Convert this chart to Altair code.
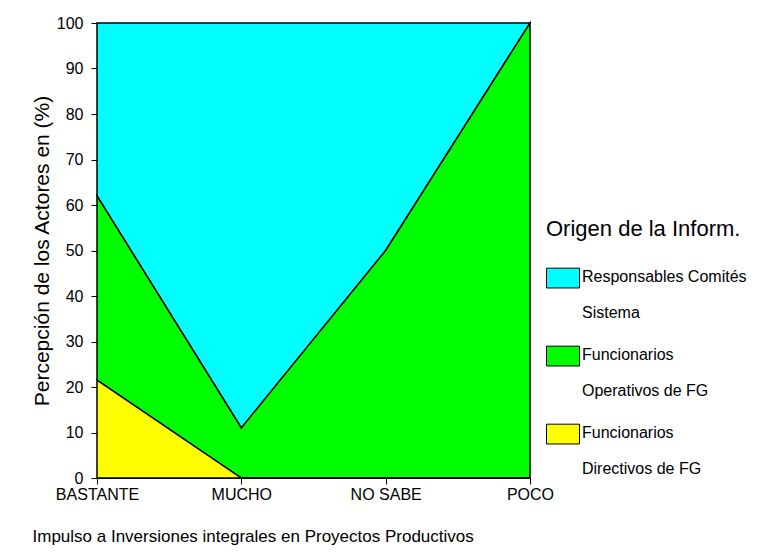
import altair as alt
import pandas as pd

categories = ["BASTANTE", "MUCHO", "NO SABE", "POCO"]
series = ["Responsables Comités Sistema", "Funcionarios Operativos de FG", "Funcionarios Directivos de FG"]
responsables = [38, 89, 50, 0]
operativos = [40.5, 11, 50, 100]
directivos = [21.5, 0, 0, 0]
colors = ["#00FFFF", "#00FF00", "#FFFF00"]
stack_order = [2, 1, 0]

rows = []
for s, vals, o in zip(series, [responsables, operativos, directivos], stack_order):
    for c, v in zip(categories, vals):
        rows.append({"cat": c, "serie": s, "val": v, "ord": o})
df = pd.DataFrame(rows)

font = "Liberation Sans"
label_expr = (
    "datum.label == 'Responsables Comités Sistema' ? ['Responsables Comités', ' Sistema'] : "
    "datum.label == 'Funcionarios Operativos de FG' ? ['Funcionarios', ' Operativos de FG'] : "
    "['Funcionarios', ' Directivos de FG']"
)

chart = alt.Chart(df).mark_area(stroke="black", strokeWidth=1.5, opacity=1, interpolate="linear").encode(
    x=alt.X("cat:N", sort=categories, scale=alt.Scale(type="point", padding=0),
            axis=alt.Axis(title="Impulso a Inversiones integrales en Proyectos Productivos",
                          labelAngle=0, titleAnchor="start", titleX=-65, titleY=50,
                          titleFontSize=17, titleFontWeight="normal", labelFontSize=16,
                          labelPadding=2, tickSize=6, domainColor="black", tickColor="black",
                          labelColor="black", titleColor="black", grid=False)),
    y=alt.Y("val:Q", stack="zero", scale=alt.Scale(domain=[0, 100], nice=False),
            axis=alt.Axis(title="Percepción de los Actores en (%)", values=list(range(0, 101, 10)),
                          titleFontSize=21, titleFontWeight="normal", labelFontSize=16,
                          labelPadding=8, tickSize=6, titlePadding=4, domainColor="black",
                          tickColor="black", labelColor="black", titleColor="black", grid=False)),
    color=alt.Color("serie:N", scale=alt.Scale(domain=series, range=colors),
                    legend=alt.Legend(orient="none", legendX=449, legendY=196,
                                      title="Origen de la Inform.", titleFontSize=22,
                                      titleFontWeight="normal", titleColor="black",
                                      titleLimit=400,
                                      titlePadding=11, labelFontSize=16, labelColor="black",
                                      labelExpr=label_expr, labelBaseline="top",
                                      labelOffset=2, labelLimit=300,
                                      symbolType="M-1,-0.05H1V1.15H-1Z", symbolSize=1089,
                                      symbolStrokeColor="black", symbolStrokeWidth=1,
                                      symbolOpacity=1, rowPadding=9)),
    order=alt.Order("ord:Q"),
).properties(
    width=433, height=455,
    autosize=alt.AutoSizeParams(type="none"),
    padding={"left": 89, "top": 15, "right": 231, "bottom": 69},
).configure_view(
    stroke="black", strokeWidth=2
).configure(
    font=font,
    style={"guide-label": {"lineHeight": 36}},
)

chart.save("out.html", embed_options={"renderer": "svg", "actions": False})
